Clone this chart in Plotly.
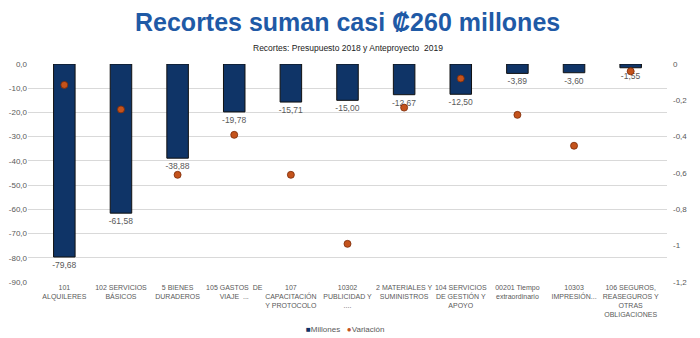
import plotly.graph_objects as go
from plotly.subplots import make_subplots

categories = [
    "101<br>ALQUILERES",
    "102 SERVICIOS<br>BÁSICOS",
    "5 BIENES<br>DURADEROS",
    "105 GASTOS  DE<br>VIAJE  ...",
    "107<br>CAPACITACIÓN<br>Y PROTOCOLO",
    "10302<br>PUBLICIDAD Y<br>....",
    "2 MATERIALES Y<br>SUMINISTROS",
    "104 SERVICIOS<br>DE GESTIÓN Y<br>APOYO",
    "00201 Tiempo<br>extraordinario",
    "10303<br>IMPRESIÓN...",
    "106 SEGUROS,<br>REASEGUROS Y<br>OTRAS<br>OBLIGACIONES",
]
millones = [-79.68, -61.58, -38.88, -19.78, -15.71, -15.00, -12.67, -12.50, -3.89, -3.60, -1.55]
variacion = [-0.115, -0.25, -0.61, -0.39, -0.61, -0.99, -0.24, -0.08, -0.28, -0.45, -0.04]

left_ticks = [0, -10, -20, -30, -40, -50, -60, -70, -80, -90]
right_ticks = [0, -0.2, -0.4, -0.6, -0.8, -1.0, -1.2]
right_tick_text = ["0", "-0,2", "-0,4", "-0,6", "-0,8", "-1", "-1,2"]

BAR_COLOR = "#0f3467"
DOT_COLOR = "#c4531c"

def fmt(v, d):
    return f"{v:.{d}f}".replace(".", ",")

fig = make_subplots(specs=[[{"secondary_y": True}]])
fig.add_trace(go.Bar(
    x=categories, y=millones, name="Millones",
    marker=dict(color=BAR_COLOR, line=dict(color="#111111", width=1)),
    text=[fmt(v, 2) for v in millones], textposition="outside",
    textfont=dict(size=8.5, color="#595959"), cliponaxis=False, showlegend=False,
), secondary_y=False)
fig.add_trace(go.Scatter(
    x=categories, y=variacion, name="Variación", mode="markers",
    marker=dict(color=DOT_COLOR, size=7, line=dict(color="#7a2a08", width=0.8)),
    showlegend=False,
), secondary_y=True)

plot_h = 338 - 64 - 56

fig.update_layout(
    width=700, height=338,
    margin=dict(l=28, r=33, t=64, b=56, autoexpand=False),
    paper_bgcolor="white", plot_bgcolor="white",
    bargap=0.62,
    uniformtext=dict(minsize=8.5, mode="show"),
    font=dict(family="Liberation Sans, Arial, sans-serif", color="#595959", size=8),
    showlegend=False,
)
fig.add_annotation(text="<b>Recortes suman casi ₡260 millones</b>", x=0.5, xref="paper",
                   y=1 + (64 - 22) / plot_h, yref="paper", showarrow=False,
                   xanchor="center", yanchor="middle",
                   font=dict(family="Liberation Sans, Arial", size=25, color="#1f5aa6"))
fig.add_annotation(text="Recortes: Presupuesto 2018 y Anteproyecto  2019", x=0.5, xref="paper",
                   y=1 + (64 - 48) / plot_h, yref="paper", showarrow=False,
                   xanchor="center", yanchor="middle",
                   font=dict(size=8.5, color="#222222"))
fig.add_annotation(
    text=f'<span style="color:{BAR_COLOR}">■</span>Millones   '
         f'<span style="color:{DOT_COLOR}">●</span>Variación',
    x=(345 - 28) / (700 - 28 - 33), xref="paper",
    y=-(329 - 282) / plot_h, yref="paper", showarrow=False,
    xanchor="center", yanchor="middle",
    font=dict(size=8, color="#595959"))

fig.update_xaxes(domain=[0, 1], showgrid=False, showline=False, ticks="", automargin=False,
                 tickfont=dict(size=7, color="#595959"), tickangle=0)
fig.update_yaxes(range=[-90, 0], tickvals=left_ticks, ticktext=[fmt(v, 1) for v in left_ticks],
                 showgrid=True, gridcolor="#d9d9d9", gridwidth=1, zeroline=False, automargin=False,
                 tickfont=dict(size=8, color="#595959"), secondary_y=False)
fig.update_yaxes(range=[-1.2, 0], tickvals=right_ticks, ticktext=right_tick_text,
                 showgrid=False, zeroline=False, ticklabelstandoff=5, automargin=False,
                 tickfont=dict(size=8, color="#595959"), secondary_y=True)

fig.write_html("out.html")
